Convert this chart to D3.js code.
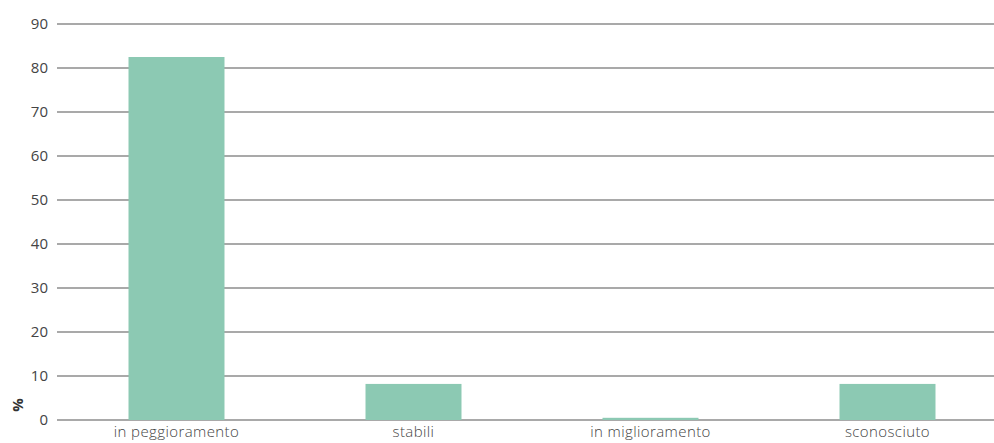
<!DOCTYPE html>
<html><head><meta charset="utf-8">
<script src="https://cdn.jsdelivr.net/npm/d3@7"></script>
<style>body{margin:0;background:#fff}svg{display:block}text{font-family:"Open Sans",Roboto,sans-serif}</style>
</head><body>
<svg id="c" width="994" height="443"></svg>
<script>
const categories = ["in peggioramento","stabili","in miglioramento","sconosciuto"];
const values = [82.5, 8.2, 0.5, 8.2];
const yTicks = [0,10,20,30,40,50,60,70,80,90];
const yLabel = "%";

const svg = d3.select("#c");
const y = d3.scaleLinear().domain([0,90]).range([420,24]);
const x = d3.scaleBand().domain(categories).range([58,1006]).paddingInner(0.595).paddingOuter(0.2975);

svg.append("g").selectAll("line").data(yTicks).join("line")
  .attr("x1",57).attr("x2",994)
  .attr("y1",d=>y(d)).attr("y2",d=>y(d))
  .attr("stroke","#8c8c8c").attr("stroke-width",1.3);

svg.append("g").selectAll("text").data(yTicks).join("text")
  .attr("x",48).attr("y",d=>y(d)).attr("dy","0.36em")
  .attr("text-anchor","end").attr("font-size",15).attr("font-weight",400).attr("fill","#444")
  .text(d=>d);

svg.append("g").selectAll("rect").data(values).join("rect")
  .attr("x",(d,i)=>x(categories[i])).attr("width",x.bandwidth())
  .attr("y",d=>y(d)).attr("height",d=>y(0)-y(d))
  .attr("fill","#8cc9b3");

svg.append("g").selectAll("text").data(categories).join("text")
  .attr("x",d=>x(d)+x.bandwidth()/2).attr("y",437)
  .attr("text-anchor","middle").attr("font-size",15).attr("font-weight",300)
  .attr("letter-spacing","0.4px").attr("fill","#444")
  .text(d=>d);

svg.append("text").attr("transform","translate(23,405) rotate(-90)")
  .attr("text-anchor","middle").attr("font-size",15).attr("font-weight","bold").attr("fill","#333")
  .text(yLabel);
</script>
</body></html>
